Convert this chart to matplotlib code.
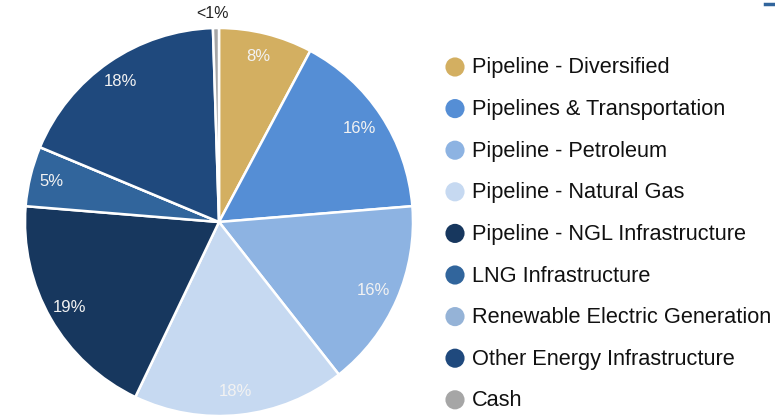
import matplotlib
matplotlib.use("Agg")
import matplotlib.pyplot as plt
import numpy as np

plt.rcParams['font.family'] = ['Liberation Sans', 'DejaVu Sans']

# sector weights (%), clockwise from 12 o'clock
categories = ['Pipeline - Diversified', 'Pipelines & Transportation',
              'Pipeline - Petroleum', 'Pipeline - Natural Gas',
              'Pipeline - NGL Infrastructure', 'LNG Infrastructure',
              'Renewable Electric Generation', 'Other Energy Infrastructure',
              'Cash']
weights = [7.8, 15.9, 15.7, 17.7, 19.2, 5.0, 0.0, 18.2, 0.5]
pct_labels = ['8%', '16%', '16%', '18%', '19%', '5%', '', '18%', '<1%']
colors = ['#D3AF61', '#558ED5', '#8DB3E2', '#C6D9F1', '#17375E',
          '#31659C', '#95B3D7', '#1F497D', '#A6A6A6']

W, H = 775, 418
fig = plt.figure(figsize=(W / 100, H / 100), dpi=100)

# pie axes: centre (219, 222) px, radius 194 px
cx, cy, R = 219, 222, 194
ax = fig.add_axes([(cx - R) / W, (H - cy - R) / H, 2 * R / W, 2 * R / H])
wedges, _ = ax.pie(weights, colors=colors, startangle=90, counterclock=False,
                   wedgeprops=dict(edgecolor='white', linewidth=1.8))
ax.set_xlim(-1, 1)
ax.set_ylim(-1, 1)
ax.set_aspect('equal')
ax.axis('off')

# percentage labels
cum = np.cumsum([0] + weights)
for i, lab in enumerate(pct_labels):
    if not lab:
        continue
    mid = (cum[i] + cum[i + 1]) / 2 / 100.0
    ang = np.deg2rad(90 - 360 * mid)
    if lab == '<1%':
        ax.text(1.08 * np.cos(ang) - 0.015, 1.075 * np.sin(ang), lab,
                ha='center', va='center', fontsize=11.5, color='#222222')
    else:
        ax.text(0.88 * np.cos(ang) - 0.01, 0.88 * np.sin(ang), lab,
                ha='center', va='center', fontsize=12, color='#F2F2F2')

# legend drawn on a pixel-coordinate overlay
lg = fig.add_axes([0, 0, 1, 1])
lg.set_xlim(0, W)
lg.set_ylim(H, 0)
lg.axis('off')
row_y = 67 + 41.6 * np.arange(len(categories))
lg.scatter([455] * len(categories), row_y, s=190, c=colors, linewidths=0)
for y, name in zip(row_y, categories):
    lg.text(472, y + 1, name, ha='left', va='center', fontsize=15.7,
            color='#111111')

# small rule in top-right corner
lg.plot([765, 775], [4, 4], color='#31659C', linewidth=2.5)

fig.savefig('out.png', dpi=100)
